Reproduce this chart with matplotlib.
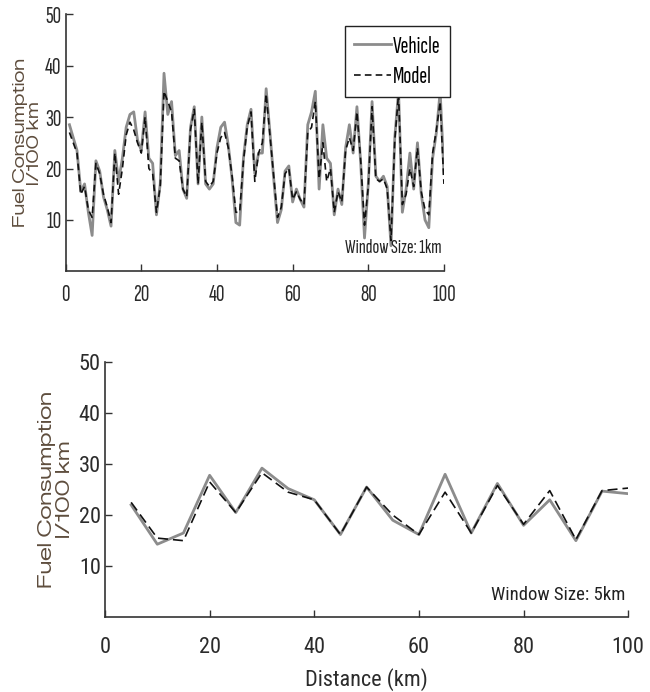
import numpy as np
import matplotlib.pyplot as plt

# 1 km window: distance (km) and fuel consumption (l/100 km)
km_1 = np.arange(1, 101)
vehicle_1 = [28.5, 26.0, 23.5, 15.5, 17.0, 11.5, 7.0, 21.5, 19.5, 14.5,
             12.0, 8.8, 23.5, 17.5, 22.0, 28.0, 30.5, 31.0, 25.5, 23.5,
             31.0, 22.0, 21.0, 11.0, 17.0, 38.5, 30.5, 33.0, 22.5, 23.5,
             16.0, 14.2, 28.0, 32.0, 17.0, 30.0, 17.0, 16.0, 17.0, 24.0,
             28.0, 29.0, 24.5, 18.0, 9.5, 9.0, 22.0, 28.5, 31.5, 19.0,
             23.0, 23.0, 35.5, 27.0, 18.0, 9.5, 12.0, 19.5, 20.5, 13.5,
             16.0, 14.0, 12.5, 28.5, 31.0, 35.0, 16.0, 28.5, 22.0, 21.0,
             11.0, 16.0, 13.0, 24.0, 28.5, 23.0, 32.0, 21.0, 6.5, 17.0,
             33.0, 18.5, 17.5, 18.5, 16.5, 5.0, 26.0, 35.0, 11.5, 16.0,
             23.0, 16.0, 25.0, 15.0, 10.0, 8.5, 22.0, 27.0, 35.0, 19.0]
model_1 = [27.0, 25.0, 23.0, 15.0, 16.5, 12.0, 10.5, 21.0, 19.0, 15.0,
           12.5, 9.5, 23.0, 15.0, 20.0, 26.5, 29.0, 27.5, 25.0, 23.0,
           30.0, 20.0, 19.0, 11.5, 16.5, 35.0, 33.0, 31.0, 22.0, 21.5,
           16.0, 14.5, 27.5, 31.5, 17.0, 29.0, 17.5, 16.5, 17.5, 23.0,
           26.0, 27.0, 24.0, 18.5, 11.5, 11.5, 21.5, 28.0, 31.0, 17.5,
           23.0, 25.0, 34.5, 26.5, 18.5, 10.5, 12.5, 19.0, 20.0, 14.0,
           15.5, 14.0, 13.0, 27.0, 28.0, 33.0, 18.0, 25.0, 17.5, 20.0,
           11.5, 15.5, 13.5, 23.5, 26.0, 23.5, 31.0, 21.5, 9.0, 16.5,
           32.0, 18.0, 17.5, 18.0, 16.0, 6.0, 25.5, 34.5, 13.0, 15.0,
           20.0, 16.5, 24.0, 15.5, 12.0, 11.0, 23.0, 27.5, 33.0, 17.0]

# 5 km window
km_5 = np.arange(5, 101, 5)
vehicle_5 = [22.0, 14.3, 16.5, 27.8, 20.5, 29.2, 25.2, 23.0, 16.2, 25.5,
             19.0, 16.2, 28.0, 16.5, 26.2, 18.0, 23.0, 15.0, 24.7, 24.2]
model_5 = [22.5, 15.5, 15.0, 26.5, 20.5, 28.3, 24.5, 23.0, 16.2, 25.5,
           20.0, 16.2, 24.5, 16.5, 25.8, 18.2, 24.8, 15.2, 24.8, 25.3]

xticks = [0, 20, 40, 60, 80, 100]
yticks = [10, 20, 30, 40, 50]

narrow_top = ['Sofia Sans Extra Condensed', 'Roboto Condensed', 'DejaVu Sans']
narrow_bot = ['Roboto Condensed', 'DejaVu Sans']
wide = ['Zalando Sans Expanded', 'DejaVu Sans']
label_col = '#5e4d3d'
tick_col = '#2b2b2b'

fig = plt.figure(figsize=(6.5, 6.92), dpi=100)


def style(ax, fam, fsize, xpad):
    for s in ['top', 'right']:
        ax.spines[s].set_visible(False)
    for s in ['left', 'bottom']:
        ax.spines[s].set_color('#333333')
        ax.spines[s].set_linewidth(1.2)
    ax.set_xlim(0, 100)
    ax.set_ylim(0, 50)
    ax.set_xticks(xticks)
    ax.set_yticks(yticks)
    ax.tick_params(direction='in', length=5, width=1, color='#333333',
                   labelcolor=tick_col)
    ax.tick_params(axis='x', pad=xpad)
    ax.tick_params(axis='y', pad=3)
    for t in ax.get_xticklabels() + ax.get_yticklabels():
        t.set_family(fam)
        t.set_fontsize(fsize)


# top panel: 1 km window
ax1 = fig.add_axes([0.101, 0.6077, 0.582, 0.372])
ax1.plot(km_1, vehicle_1, color='#8c8c8c', lw=2.0, label='Vehicle')
ax1.plot(km_1, model_1, color='#111111', lw=1.2, ls=(0, (4, 2.5)), label='Model')
style(ax1, narrow_top, 17, 9)
ax1.set_ylabel('Fuel Consumption\nl/100 km', fontsize=12, family=wide,
               color=label_col, linespacing=0.95)
ax1.yaxis.set_label_coords(-0.062, 0.5)
ax1.text(0.995, 0.09, 'Window Size: 1km', transform=ax1.transAxes,
         ha='right', va='center', fontsize=14.5, family=narrow_top, color='#222222')
leg = ax1.legend(loc='upper left', bbox_to_anchor=(0.738, 0.953), fancybox=False,
                 edgecolor='#222222', framealpha=1, handlelength=1.55,
                 handletextpad=0.1, borderpad=0.4, borderaxespad=0,
                 labelspacing=0.35, prop={'family': narrow_top, 'size': 17})
leg.get_frame().set_linewidth(1.0)

# bottom panel: 5 km window
ax2 = fig.add_axes([0.1615, 0.108, 0.805, 0.369])
ax2.plot(km_5, vehicle_5, color='#8c8c8c', lw=2.0)
ax2.plot(km_5, model_5, color='#111111', lw=1.2, ls=(0, (6, 3)))
style(ax2, narrow_bot, 16, 14)
ax2.set_ylabel('Fuel Consumption\nl/100 km', fontsize=14, family=wide,
               color=label_col, linespacing=0.95)
ax2.yaxis.set_label_coords(-0.06, 0.5)
ax2.set_xlabel('Distance (km)', fontsize=16, family=narrow_bot, color=tick_col)
ax2.xaxis.set_label_coords(0.5, -0.2)
ax2.text(0.994, 0.086, 'Window Size: 5km', transform=ax2.transAxes,
         ha='right', va='center', fontsize=13.5, family=narrow_bot, color='#222222')

fig.savefig('out.png', dpi=100)
